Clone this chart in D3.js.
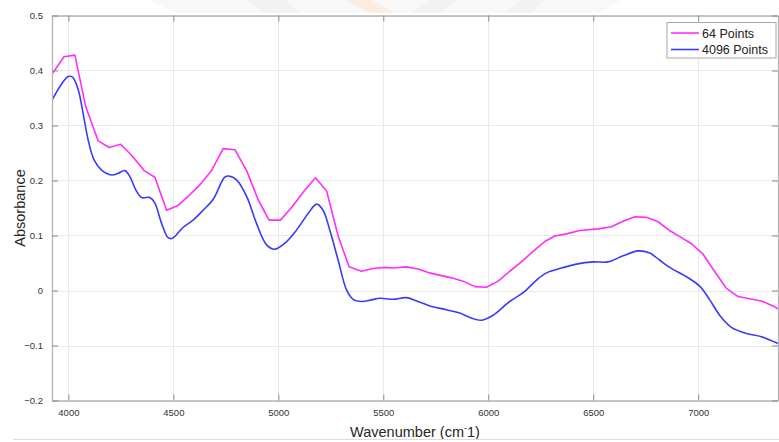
<!DOCTYPE html>
<html>
<head>
<meta charset="utf-8">
<script src="https://cdn.jsdelivr.net/npm/d3@7"></script>
<style>
  body { margin: 0; background: #fff; }
  svg { display: block; font-family: "Liberation Sans", Arial, sans-serif; }
</style>
</head>
<body>
<svg></svg>
<script>
const size = { w: 779, h: 442 };
const plot = { l: 52, r: 778, t: 15.5, b: 400.5 };

// 64 point spectrum (wavenumber, absorbance)
const wave64 = [3925, 3979, 4031, 4083, 4142, 4194, 4249, 4301, 4361, 4412, 4468, 4520, 4570, 4626, 4682, 4737, 4793,
  4849, 4904, 4956, 5010, 5063, 5121, 5177, 5230, 5285, 5337, 5396, 5451, 5507, 5547, 5610, 5666, 5721, 5777, 5825,
  5880, 5936, 5991, 6047, 6102, 6158, 6213, 6269, 6317, 6372, 6436, 6523, 6587, 6642, 6698, 6753, 6809, 6864, 6912,
  6968, 7023, 7079, 7134, 7190, 7245, 7301, 7356, 7383];
const abs64 = [0.395, 0.425, 0.428, 0.334, 0.272, 0.260, 0.266, 0.246, 0.218, 0.206, 0.146, 0.154, 0.171, 0.192, 0.218, 0.258, 0.256,
  0.218, 0.165, 0.128, 0.128, 0.151, 0.180, 0.205, 0.181, 0.099, 0.043, 0.035, 0.040, 0.042, 0.041, 0.043, 0.039, 0.032, 0.027, 0.023,
  0.017, 0.007, 0.006, 0.017, 0.035, 0.052, 0.071, 0.089, 0.099, 0.103, 0.109, 0.112, 0.116, 0.126, 0.134, 0.133, 0.125, 0.109, 0.098,
  0.085, 0.066, 0.034, 0.004, -0.011, -0.015, -0.019, -0.028, -0.034];

// 4096 point spectrum
const wave4096 = [3925, 3960, 3999, 4020, 4047, 4070, 4094, 4123, 4158, 4206, 4237, 4269, 4293, 4321, 4349, 4388, 4412, 4444,
  4475, 4496, 4547, 4594, 4642, 4690, 4745, 4766, 4801, 4849, 4896, 4944, 4983, 5031, 5087, 5142, 5182, 5213, 5245, 5285,
  5325, 5356, 5396, 5444, 5483, 5547, 5610, 5666, 5721, 5801, 5864, 5912, 5968, 6023, 6102, 6166, 6230, 6277, 6340, 6420,
  6499, 6570, 6642, 6713, 6769, 6817, 6864, 6944, 7007, 7055, 7102, 7158, 7230, 7301, 7383];
const abs4096 = [0.348, 0.371, 0.389, 0.388, 0.365, 0.322, 0.274, 0.237, 0.219, 0.210, 0.213, 0.218, 0.207, 0.183, 0.169, 0.169, 0.159, 0.122,
  0.096, 0.095, 0.115, 0.128, 0.146, 0.166, 0.206, 0.208, 0.201, 0.171, 0.122, 0.083, 0.075, 0.086, 0.110, 0.140, 0.157, 0.146, 0.110, 0.055,
  0.001, -0.016, -0.020, -0.017, -0.014, -0.016, -0.013, -0.020, -0.028, -0.035, -0.041, -0.049, -0.054, -0.045, -0.020, -0.004, 0.019, 0.032, 0.040, 0.048,
  0.052, 0.052, 0.063, 0.072, 0.068, 0.055, 0.042, 0.025, 0.008, -0.017, -0.045, -0.067, -0.078, -0.084, -0.097];

const xTicks = [4000, 4500, 5000, 5500, 6000, 6500, 7000];
const yTicks = [-0.2, -0.1, 0, 0.1, 0.2, 0.3, 0.4, 0.5];
const seriesNames = ["64 Points", "4096 Points"];
const seriesColors = ["#ff2dff", "#3a3aff"];

const svg = d3.select("svg").attr("width", size.w).attr("height", size.h);

// faint watermark above the axes
const wm = svg.append("g").attr("opacity", 0.5);
wm.append("path").attr("d", "M150,0 L175,13 L600,13 L620,0 Z").attr("fill", "#f2f2f2");
wm.append("path").attr("d", "M245,0 L265,13 L300,13 L285,0 Z").attr("fill", "#e6e6e6");
wm.append("path").attr("d", "M345,0 L370,13 L395,13 L372,0 Z").attr("fill", "#fbdcc6");
wm.append("path").attr("d", "M430,0 L410,13 L440,13 L458,0 Z").attr("fill", "#e6e6e6");
wm.append("path").attr("d", "M520,0 L505,13 L530,13 L545,0 Z").attr("fill", "#e6e6e6");

const x = d3.scaleLinear().domain([3922, 7380]).range([plot.l, plot.r]);
const y = d3.scaleLinear().domain([-0.2, 0.5]).range([plot.b, plot.t]);

svg.append("rect")
  .attr("x", plot.l).attr("y", plot.t)
  .attr("width", plot.r - plot.l).attr("height", plot.b - plot.t)
  .attr("fill", "#fff");

// grid
const grid = svg.append("g").attr("stroke", "#e9e9e9").attr("stroke-width", 1);
grid.selectAll("line.gx").data(xTicks).join("line")
  .attr("x1", d => Math.round(x(d)) + 0.5).attr("x2", d => Math.round(x(d)) + 0.5)
  .attr("y1", plot.t).attr("y2", plot.b);
grid.selectAll("line.gy").data(yTicks).join("line")
  .attr("y1", d => Math.round(y(d)) + 0.5).attr("y2", d => Math.round(y(d)) + 0.5)
  .attr("x1", plot.l).attr("x2", plot.r);

// curves
const line64 = d3.line().x((d, i) => x(wave64[i])).y(d => y(d));
const line4096 = d3.line().x((d, i) => x(wave4096[i])).y(d => y(d)).curve(d3.curveCatmullRom.alpha(0.5));

svg.append("clipPath").attr("id", "clip")
  .append("rect").attr("x", plot.l).attr("y", plot.t)
  .attr("width", plot.r - plot.l + 2).attr("height", plot.b - plot.t);

const curves = svg.append("g").attr("clip-path", "url(#clip)").attr("fill", "none")
  .attr("stroke-width", 1.6).attr("stroke-linejoin", "round");
curves.append("path").attr("d", line64(abs64)).attr("stroke", seriesColors[0]);
curves.append("path").attr("d", line4096(abs4096)).attr("stroke", seriesColors[1]);

// axes box with inward ticks (matlab style)
const axisColor = "#8c8c8c";
const tickLen = 6;
const axG = svg.append("g");

const xAxisB = d3.axisBottom(x).tickValues(xTicks).tickSizeInner(-tickLen).tickSizeOuter(0).tickPadding(9)
  .tickFormat(d3.format("d"));
const xAxisT = d3.axisTop(x).tickValues(xTicks).tickSizeInner(-tickLen).tickSizeOuter(0).tickFormat("");
const yAxisL = d3.axisLeft(y).tickValues(yTicks).tickSizeInner(-tickLen).tickSizeOuter(0).tickPadding(9)
  .tickFormat(d => d === 0 ? "0" : d3.format(".1f")(d));
const yAxisR = d3.axisRight(y).tickValues(yTicks).tickSizeInner(-tickLen).tickSizeOuter(0).tickFormat("");

axG.append("g").attr("transform", `translate(0,${plot.b})`).call(xAxisB);
axG.append("g").attr("transform", `translate(0,${plot.t})`).call(xAxisT);
axG.append("g").attr("transform", `translate(${plot.l},0)`).call(yAxisL);
axG.append("g").attr("transform", `translate(${plot.r},0)`).call(yAxisR);

axG.selectAll(".domain").attr("stroke", "#b5b5b5").attr("stroke-width", 1.3);
axG.selectAll(".tick line").attr("stroke", axisColor);
axG.selectAll(".tick text").attr("fill", "#333").attr("font-size", 9.5)
  .attr("font-family", "'Liberation Sans', Arial, sans-serif");

// axis titles
const xt = svg.append("text")
  .attr("x", 415).attr("y", 437)
  .attr("text-anchor", "middle").attr("font-size", 14.5).attr("fill", "#262626");
xt.append("tspan").text("Wavenumber (cm");
xt.append("tspan").attr("font-size", 9).attr("dy", -6).text("-");
xt.append("tspan").attr("dy", 6).text("1)");

svg.append("text")
  .attr("transform", `translate(25,${(plot.t + plot.b) / 2}) rotate(-90)`)
  .attr("text-anchor", "middle").attr("font-size", 14.5).attr("fill", "#262626")
  .text("Absorbance");

// legend
const lg = svg.append("g").attr("transform", "translate(667,22.5)");
lg.append("rect").attr("width", 109).attr("height", 35.5)
  .attr("fill", "#fff").attr("stroke", "#a8a8a8").attr("stroke-width", 1);
seriesNames.forEach((name, i) => {
  const yy = 10.5 + i * 16.5;
  lg.append("line").attr("x1", 4).attr("x2", 32).attr("y1", yy).attr("y2", yy)
    .attr("stroke", seriesColors[i]).attr("stroke-width", 1.6);
  lg.append("text").attr("x", 35).attr("y", yy + 4.5)
    .attr("font-size", 12.5).attr("fill", "#222").text(name);
});

// thin separator at the very bottom
svg.append("line").attr("x1", 13).attr("x2", size.w).attr("y1", 439.5).attr("y2", 439.5)
  .attr("stroke", "#dcdcdc");
</script>
</body>
</html>
